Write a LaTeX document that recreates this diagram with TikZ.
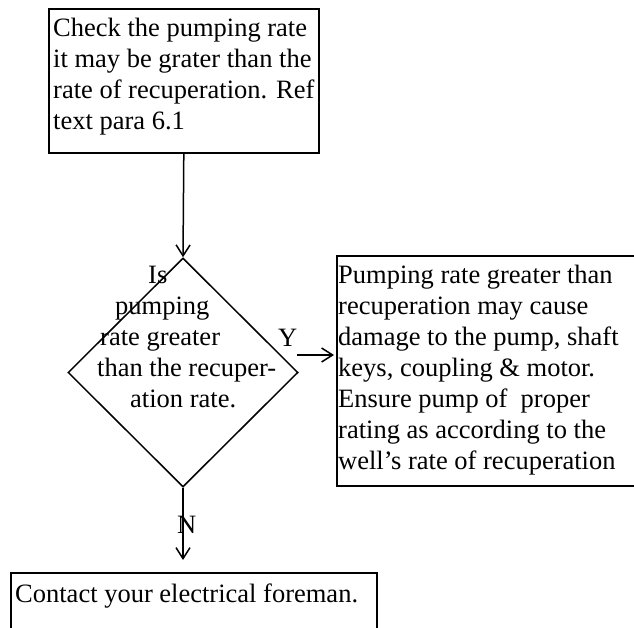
\documentclass[tikz,border=0pt]{standalone}
\usepackage{fontspec}
\setmainfont{Liberation Serif}
\usetikzlibrary{arrows.meta,shapes.geometric}
\begin{document}
\begin{tikzpicture}[x=1pt,y=-1pt,
  box/.style={draw,line width=1.6pt,rectangle,inner sep=0pt,anchor=north west},
  txt/.style={inner sep=0pt,anchor=north west,align=left,font=\fontsize{26.5}{31}\selectfont},
  lbl/.style={inner sep=0pt,anchor=base west,font=\fontsize{26.5}{31}\selectfont},
  arr/.style={line width=1.5pt,-{Straight Barb[length=11pt,width=14pt,line width=1.5pt]}}]
\useasboundingbox (0,0) rectangle (634,628);
% boxes
\node[box,minimum width=270pt,minimum height=144pt] (top) at (48,8) {};
\node[draw,diamond,line width=1.5pt,minimum width=230pt,minimum height=229pt,inner sep=0pt] (d) at (183,372.5) {};
\begin{scope}
\clip (0,0) rectangle (634,628);
\node[box,overlay,minimum width=330pt,minimum height=230pt] (rb) at (336,255) {};
\node[box,overlay,minimum width=366pt,minimum height=100pt] (bb) at (10,572) {};
\end{scope}
% texts
\node[txt] (ttop) at (53,18) {Check the pumping rate\\it may be grater than the\\rate of recuperation. Ref\\text para 6.1};
\node[txt] (trb) at (338,265) {Pumping rate greater than\\recuperation may cause\\damage to the pump, shaft\\keys, coupling \& motor.\\Ensure pump of~ proper\\rating as according to the\\well’s rate of recuperation};
\node[txt] (tbb) at (15,584) {Contact your electrical foreman.};
\node[txt] (td) at (97,265.5) {\hspace*{51pt}Is\\\hspace*{18pt}pumping\\\hspace*{3pt}rate greater\\than the recuper-\\\hspace*{33pt}ation rate.};
\node[lbl] (ylab) at (278,346) {Y};
\node[lbl] (nlab) at (177,533) {N};
% connectors
\coordinate (ys) at (297,355);
\coordinate (ne) at (183,560);
\draw[arr] (top.south) -- (d.north);
\draw[arr,shorten >=2pt] (ys) -- (rb.west |- ys);
\draw[arr] (d.south) -- (ne);
\end{tikzpicture}
\end{document}
